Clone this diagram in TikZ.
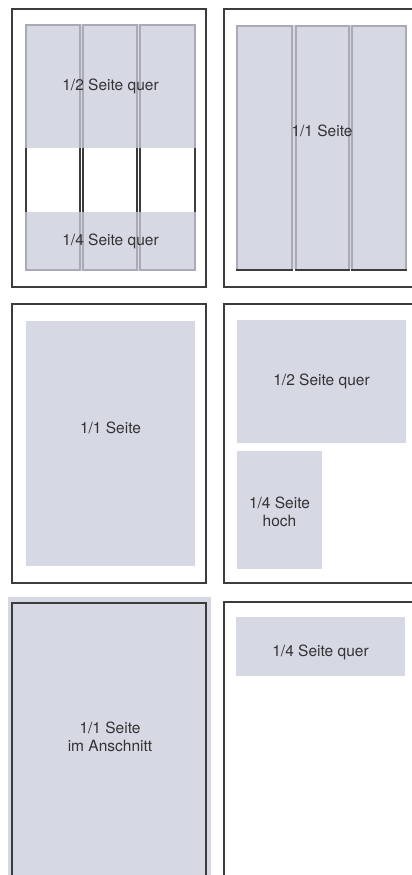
\documentclass[tikz,border=0pt]{standalone}
\usepackage{fontspec}
\setmainfont{TeX Gyre Heros}
\usepackage{xcolor}
\usepackage{tikz}
\definecolor{Ink}      {HTML}{333333}
\definecolor{FrameGrey}{HTML}{3C3C3C}
\definecolor{AdGrey}   {HTML}{D6D8E4}
\definecolor{VeilGrey} {HTML}{CACCDC}

\begin{document}
\begin{tikzpicture}[x=1pt, y=-1pt,
  page/.style={draw=FrameGrey, line width=1.3pt},
  column/.style={draw=FrameGrey, line width=1.1pt},
  veil/.style={fill=VeilGrey, fill opacity=0.77},
  adbox/.style={fill=AdGrey},
  lbl/.style={text=Ink, align=center, inner sep=0pt,
              font={\fontsize{15.5}{18.5}\selectfont}}]

  \path[use as bounding box] (0,0) rectangle (412,875);
  \clip (0,0) rectangle (412,875);

  % ===== PAGE 1: 1/2 + 1/4 quer over three columns =====
  \draw[page] (12,9) rectangle (206,287);
  \foreach \l/\r in {26/80,83/137,140/195}{
    \draw[column] (\l,25) rectangle (\r,270);
  }
  \fill[veil] (25.4,24.4) rectangle (195.6,148);
  \fill[veil] (25.4,212) rectangle (195.6,270.6);
  \node[lbl, anchor=base] (halfA)    at (110.5,90)  {1/2 Seite quer};
  \node[lbl, anchor=base] (quarterA) at (110.5,245) {1/4 Seite quer};

  % ===== PAGE 2: 1/1 over three columns =====
  \draw[page] (224,9) rectangle (430,287);
  \foreach \l/\r in {237/292,296/349,352/406}{
    \draw[column] (\l,26) rectangle (\r,270);
  }
  \fill[veil] (236.4,25.4) rectangle (406.6,269.3);
  \node[lbl, anchor=base] (fullB) at (322,136.5) {1/1 Seite};

  % ===== PAGE 3: 1/1 =====
  \draw[page] (12,304) rectangle (206,583);
  \fill[adbox] (26,321) rectangle (195,566);
  \node[lbl, anchor=base] (fullC) at (110.5,433) {1/1 Seite};

  % ===== PAGE 4: 1/2 quer + 1/4 hoch =====
  \draw[page] (224,304) rectangle (430,583);
  \fill[adbox] (237,320) rectangle (406,443);
  \node[lbl, anchor=base] (halfD) at (321.5,385) {1/2 Seite quer};
  \fill[adbox] (237,451) rectangle (322,569);
  \node[lbl] (quarterD) at (279.5,512) {1/4 Seite\\hoch};

  % ===== PAGE 5: 1/1 bleed =====
  \fill[adbox] (8,597) rectangle (211,890);
  \draw[page] (12,603) rectangle (206,890);
  \node[lbl] (bleedE) at (110,737) {1/1 Seite\\im Anschnitt};

  % ===== PAGE 6: 1/4 quer =====
  \draw[page] (224,602) rectangle (430,890);
  \fill[adbox] (236,617) rectangle (405,676);
  \node[lbl, anchor=base] (quarterF) at (320.5,656) {1/4 Seite quer};

\end{tikzpicture}
\end{document}
